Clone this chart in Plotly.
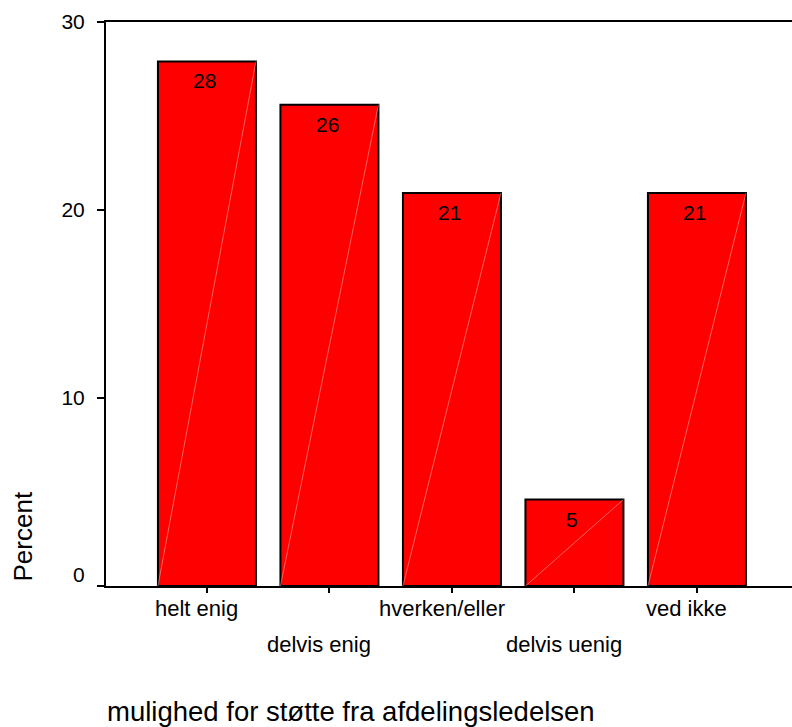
import plotly.graph_objects as go

categories = ["helt enig", "delvis enig", "hverken/eller", "delvis uenig", "ved ikke"]
percent = [27.9, 25.6, 20.9, 4.6, 20.9]
bar_labels = ["28", "26", "21", "5", "21"]
label_row = [0, 1, 0, 1, 0]
y_ticks = [0, 10, 20, 30]
x_title = "mulighed for støtte fra afdelingsledelsen"
y_title = "Percent"

FONT = "Liberation Sans, Arial, sans-serif"
W, H = 792, 727
L, R, T, B = 106, 0, 22, 141
PH = H - T - B
PW = W - L - R

def py(pix):
    return (H - B - pix) / PH

def px(pix):
    return (pix - L) / PW

xs = list(range(len(categories)))
bw = 0.8

fig = go.Figure()
fig.add_trace(go.Bar(
    x=xs, y=percent, width=bw,
    marker=dict(color="#ff0000", line=dict(color="black", width=2)),
    hoverinfo="skip", showlegend=False,
))
for i, v in zip(xs, percent):
    fig.add_trace(go.Scatter(
        x=[i - bw / 2, i + bw / 2], y=[0, v], mode="lines",
        line=dict(color="rgba(255,190,190,0.85)", width=0.6),
        hoverinfo="skip", showlegend=False,
    ))

ann = []
for i, v, t in zip(xs, percent, bar_labels):
    ann.append(dict(x=i, y=v, xref="x", yref="y", text=t, showarrow=False,
                    yanchor="middle", xanchor="center", yshift=-19.5, xshift=-2,
                    font=dict(family=FONT, size=21, color="black")))
row_y = [py(608.3), py(644.3)]
for i, c, r in zip(xs, categories, label_row):
    ann.append(dict(x=i, y=row_y[r], xref="x", yref="paper", text=c, showarrow=False,
                    yanchor="middle", xanchor="center", xshift=-10,
                    font=dict(family=FONT, size=22, color="black")))
ann.append(dict(x=px(87), y=0, xref="paper", yref="y", text=str(y_ticks[0]),
                showarrow=False, xanchor="right", yanchor="middle", yshift=11.5,
                font=dict(family=FONT, size=21, color="black")))
ann.append(dict(x=px(105), y=py(711.5), xref="paper", yref="paper", text=x_title,
                showarrow=False, xanchor="left", yanchor="middle",
                font=dict(family=FONT, size=27.5, color="black")))
ann.append(dict(x=px(22.5), y=py(537), xref="paper", yref="paper", text=y_title,
                showarrow=False, xanchor="center", yanchor="middle", textangle=-90,
                font=dict(family=FONT, size=26, color="black")))

fig.update_layout(
    width=W, height=H,
    margin=dict(l=L, r=R, t=T, b=B, pad=0),
    paper_bgcolor="white", plot_bgcolor="white",
    annotations=ann,
    bargap=0.2,
)
fig.update_xaxes(
    range=[-0.824, -0.824 + PW / 122.5],
    tickvals=xs, ticktext=[""] * len(xs),
    ticks="outside", ticklen=5, tickwidth=1.5, tickcolor="black",
    showline=True, linecolor="black", linewidth=2, mirror=True,
    showgrid=False, zeroline=False,
)
fig.update_yaxes(
    range=[0, 30],
    tickvals=y_ticks, ticktext=[""] + [str(v) for v in y_ticks[1:]],
    ticks="outside", ticklen=7, tickwidth=1.5, tickcolor="black",
    ticklabelstandoff=8,
    tickfont=dict(family=FONT, size=21, color="black"),
    showline=True, linecolor="black", linewidth=2,
    showgrid=False, zeroline=False,
)
fig.write_html(
    "out.html",
    config={"displayModeBar": False},
    post_script="document.body.style.margin='0';document.body.style.padding='0';document.body.style.overflow='hidden';",
)
